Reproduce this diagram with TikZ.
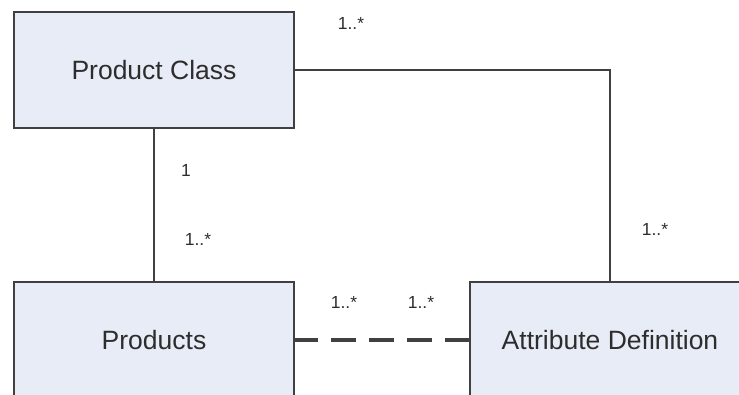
\documentclass[tikz,border=0pt]{standalone}
\usepackage{fontspec}
\setmainfont{Liberation Sans}
\usetikzlibrary{positioning}
\definecolor{boxfill}{RGB}{232,236,246}
\definecolor{boxline}{RGB}{64,64,64}
\definecolor{txtcol}{RGB}{45,45,45}
\tikzset{
  classbox/.style={draw=boxline, fill=boxfill, line width=1.4pt, minimum width=280pt,
    minimum height=116pt, inner sep=0pt, text=txtcol, font=\fontsize{26.5}{30}\selectfont},
  assocln/.style={draw=boxline, line width=1.4pt},
  depln/.style={draw=boxline, line width=3.6pt, dash pattern=on 25pt off 13pt, dash phase=2pt},
  mult/.style={text=txtcol, inner sep=0pt, font=\fontsize{17.5}{20}\selectfont},
}
\begin{document}
\begin{tikzpicture}[x=1pt, y=-1pt]
    \useasboundingbox (0,0) rectangle (739,394);
    % classes
    \node[classbox] (pclass) at (154,70) {Product Class};
    \node[classbox] (prod) at (154,340) {Products};
    \node[classbox] (attdef) at (610,340) {Attribute Definition};
    % associations
    \draw[assocln] (pclass.south) -- (prod.north);
    \draw[assocln] (pclass.east) -| (attdef.north);
    \draw[depln] (prod.east) -- (attdef.west);
    % multiplicities
    \node[mult] (m1) at (351,23) {1..*};
    \node[mult] (m2) at (186,170) {1};
    \node[mult] (m3) at (198,239) {1..*};
    \node[mult] (m4) at (344,302) {1..*};
    \node[mult] (m5) at (421,302) {1..*};
    \node[mult] (m6) at (655,229) {1..*};
\end{tikzpicture}
\end{document}
